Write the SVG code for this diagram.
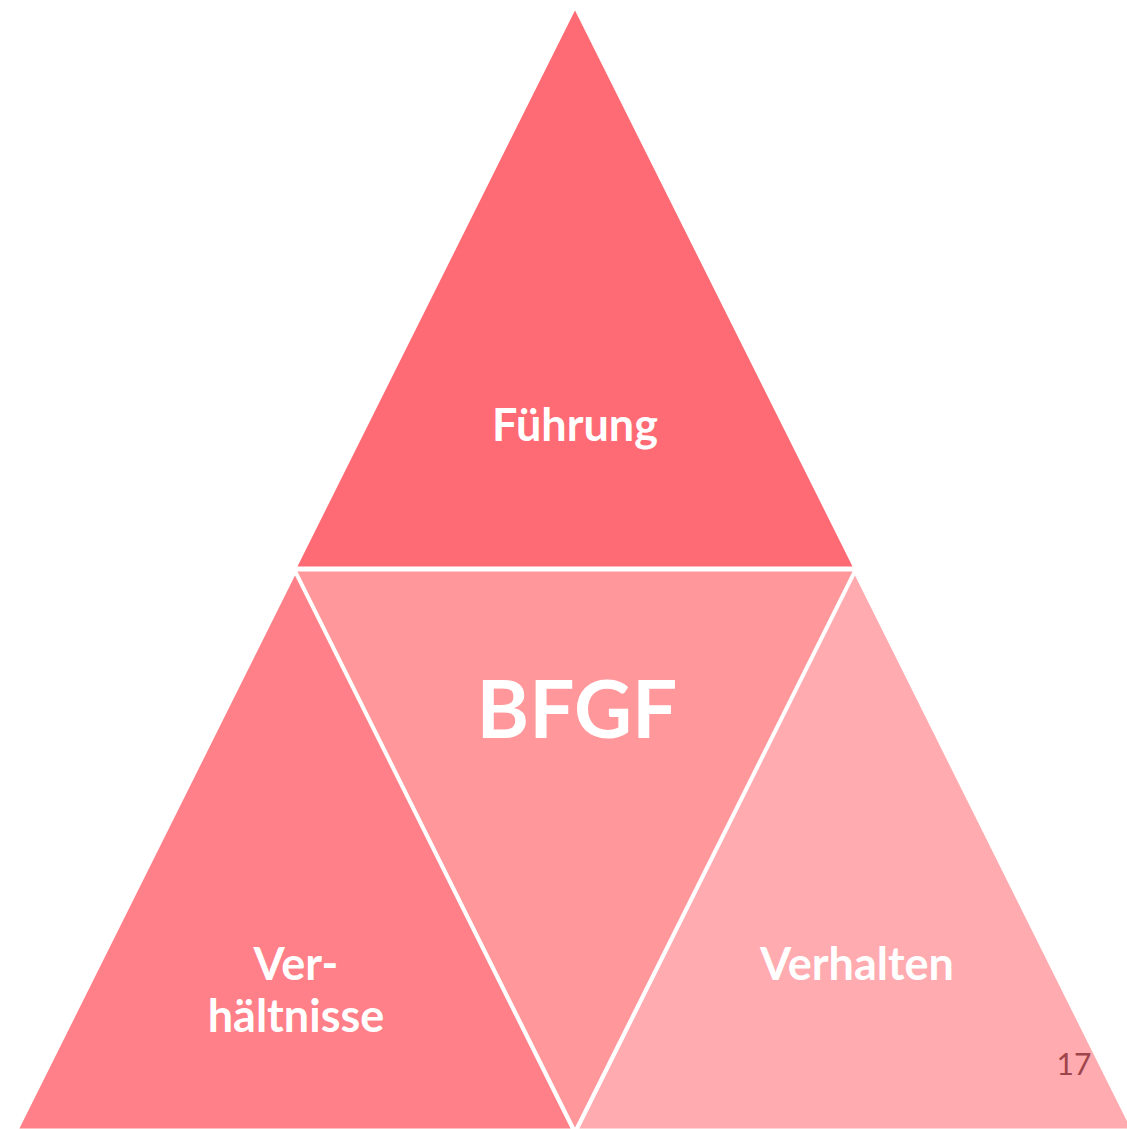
<svg xmlns="http://www.w3.org/2000/svg" width="1127" height="1129" viewBox="0 0 1127 1129">
<style>
.tri{stroke:#ffffff;stroke-width:3;stroke-linejoin:miter}
.lbl{font-family:Lato,"Open Sans","Liberation Sans",sans-serif;font-weight:bold;fill:#ffffff;text-anchor:middle}
</style>
<rect width="1127" height="1129" fill="#ffffff"/>
<g id="connectors"/>
<g id="node-verhaeltnisse">
<polygon class="tri" points="295,572 17,1130 573,1130" fill="#FF8088"/>
<text class="lbl" x="296" y="980" font-size="45">Ver-</text>
<text class="lbl" x="296" y="1032" font-size="45">hältnisse</text>
</g>
<g id="node-verhalten">
<polygon class="tri" points="855,572 577,1130 1133,1130" fill="#FFABB0"/>
<text class="lbl" x="857" y="980" font-size="45">Verhalten</text>
</g>
<g id="node-bfgf">
<polygon class="tri" points="295,570 855,570 575,1131" fill="#FF979B"/>
<text class="lbl" x="577" y="738" font-size="80">BFGF</text>
</g>
<g id="node-fuehrung">
<polygon class="tri" points="575,7 295,568 855,568" fill="#FF6B75"/>
<text class="lbl" x="575" y="441" font-size="45">Führung</text>
</g>
<text x="1074" y="1075" font-family="Lato,'Liberation Sans',sans-serif" font-size="30" fill="#9E454B" text-anchor="middle">17</text>
</svg>
